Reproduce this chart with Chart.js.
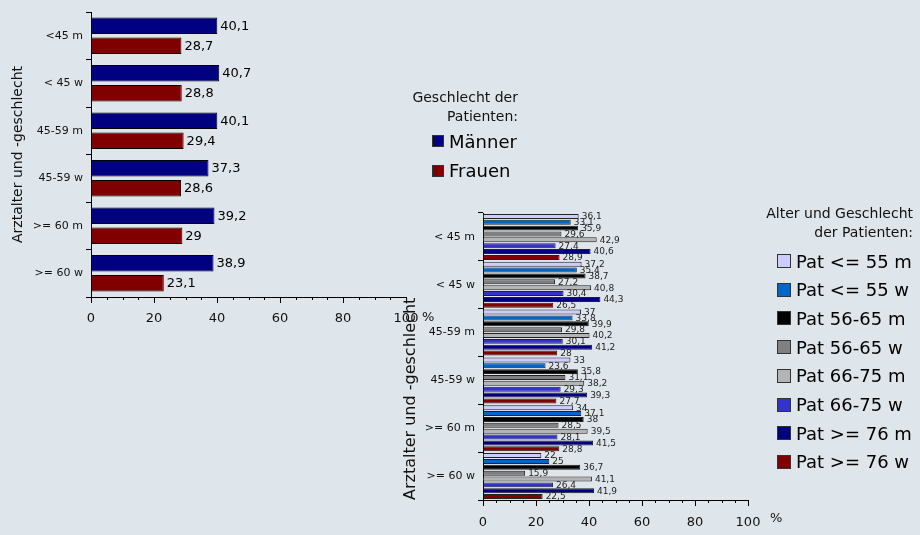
<!DOCTYPE html>
<html>
<head>
<meta charset="utf-8">
<script src="https://cdn.jsdelivr.net/npm/chart.js@4/dist/chart.umd.min.js"></script>
<style>
  body { margin: 0; background: #dfe6eb; font-family: "DejaVu Sans", Verdana, sans-serif; }
  #wrap { position: relative; width: 920px; height: 535px; overflow: hidden; }
  .box { position: absolute; }
  .legend-title { position: absolute; text-align: right; font-size: 14px; line-height: 19px; color: #111; }
  .legend-item { position: absolute; display: flex; align-items: center; color: #000; white-space: nowrap; }
  .legend-item span.sw { display: inline-block; border: 1px solid #333; margin-right: 5px; box-sizing: border-box; }
</style>
</head>
<body>
<div id="wrap">
  <div class="box" style="left:0;top:0;width:440px;height:335px;"><canvas id="chart1"></canvas></div>
  <div class="box" style="left:400px;top:200px;width:395px;height:335px;"><canvas id="chart2"></canvas></div>
  <div id="legend1"></div>
  <div id="legend2"></div>
</div>
<script>
const categories = ["<45 m", "< 45 w", "45-59 m", "45-59 w", ">= 60 m", ">= 60 w"];
const categories2 = ["< 45 m", "< 45 w", "45-59 m", "45-59 w", ">= 60 m", ">= 60 w"];

const sexLabels = ["Männer", "Frauen"];
const sexColors = ["#000080", "#800000"];
const maenner = [40.1, 40.7, 40.1, 37.3, 39.2, 38.9];
const frauen = [28.7, 28.8, 29.4, 28.6, 29, 23.1];

const groupLabels = ["Pat <= 55 m", "Pat <= 55 w", "Pat 56-65 m", "Pat 56-65 w",
  "Pat 66-75 m", "Pat 66-75 w", "Pat >= 76 m", "Pat >= 76 w"];
const groupColors = ["#ccccff", "#0066cc", "#000000", "#808080",
  "#b4b4b4", "#3333cc", "#000080", "#800000"];
const pat55m = [36.1, 37.2, 37, 33, 34, 22];
const pat55w = [33.1, 35.4, 33.8, 23.6, 37.1, 25];
const pat65m = [35.9, 38.7, 39.9, 35.8, 38, 36.7];
const pat65w = [29.6, 27.2, 29.8, 31.1, 28.5, 15.9];
const pat75m = [42.9, 40.8, 40.2, 38.2, 39.5, 41.1];
const pat75w = [27.4, 30.4, 30.1, 29.3, 28.1, 26.4];
const pat76m = [40.6, 44.3, 41.2, 39.3, 41.5, 41.9];
const pat76w = [28.9, 26.5, 28, 27.7, 28.8, 22.5];
const groupValues = [pat55m, pat55w, pat65m, pat65w, pat75m, pat75w, pat76m, pat76w];

const xTicks = [0, 20, 40, 60, 80, 100];
const FONT = "'DejaVu Sans', Verdana, sans-serif";

function fmt(v) { return String(v).replace(".", ","); }

// value labels at the end of each bar
const valueLabels = {
  id: "valueLabels",
  afterDatasetsDraw(chart, args, opts) {
    const ctx = chart.ctx;
    ctx.save();
    ctx.font = opts.size + "px " + FONT;
    ctx.fillStyle = opts.color;
    ctx.textBaseline = "middle";
    ctx.textAlign = "left";
    chart.data.datasets.forEach((ds, i) => {
      chart.getDatasetMeta(i).data.forEach((bar, j) => {
        ctx.fillText(fmt(ds.data[j]), bar.x + 3, bar.y + 0.5);
      });
    });
    ctx.restore();
  }
};

// "%" unit after the last x tick label, plus short minor ticks
const unitLabel = {
  id: "unitLabel",
  afterDraw(chart, args, opts) {
    const x = chart.scales.x;
    const ctx = chart.ctx;
    ctx.save();
    ctx.strokeStyle = "#000";
    ctx.lineWidth = 1;
    ctx.beginPath();
    x.ticks.forEach((t) => {
      if (xTicks.includes(t.value)) return;
      const px = Math.round(x.getPixelForValue(t.value)) + 0.5;
      ctx.moveTo(px, x.top);
      ctx.lineTo(px, x.top + 3);
    });
    ctx.stroke();
    ctx.font = opts.size + "px " + FONT;
    ctx.fillStyle = "#111";
    ctx.textBaseline = "middle";
    ctx.fillText("%", x.getPixelForValue(100) + opts.dx, x.top + opts.dy);
    ctx.restore();
  }
};

function makeOptions(cfg) {
  return {
    indexAxis: "y",
    responsive: true,
    maintainAspectRatio: false,
    animation: false,
    layout: { padding: { top: cfg.padTop, right: cfg.padRight, left: 0, bottom: 0 } },
    plugins: {
      legend: { display: false },
      tooltip: { enabled: false },
      valueLabels: { size: cfg.labelSize, color: cfg.labelColor },
      unitLabel: { size: cfg.tickSize, dx: cfg.unitDx, dy: cfg.unitDy }
    },
    scales: {
      x: {
        min: 0, max: 100,
        afterBuildTicks(scale) {
          const t = [];
          for (let v = 0; v <= 100; v += 5) t.push({ value: v });
          scale.ticks = t;
        },
        afterFit(scale) { scale.height = cfg.xHeight; },
        border: { display: true, color: "#000", width: 1 },
        grid: {
          drawOnChartArea: false, tickLength: cfg.xTickLen, tickWidth: 1,
          tickColor: (c) => xTicks.includes(c.tick && c.tick.value) ? "#000" : "rgba(0,0,0,0)"
        },
        ticks: {
          autoSkip: false, maxRotation: 0,
          padding: cfg.xPad,
          color: "#111",
          font: { family: FONT, size: cfg.tickSize },
          callback: (v) => xTicks.includes(v) ? String(v) : ""
        }
      },
      y: {
        afterFit(scale) { scale.width = cfg.yWidth; },
        border: { display: true, color: "#000", width: 1 },
        grid: { drawOnChartArea: false, tickLength: 5, tickColor: "#000", offset: true },
        ticks: { color: "#111", padding: 3, font: { family: FONT, size: cfg.catSize } },
        title: {
          display: true, text: "Arztalter und -geschlecht", color: "#111",
          align: cfg.titleAlign, padding: { top: cfg.titlePad, bottom: 0 },
          font: { family: FONT, size: cfg.titleSize }
        }
      }
    }
  };
}

new Chart(document.getElementById("chart1"), {
  type: "bar",
  data: {
    labels: categories,
    datasets: [maenner, frauen].map((d, i) => ({
      label: sexLabels[i], data: d,
      backgroundColor: sexColors[i], borderColor: "#000", borderWidth: 1,
      categoryPercentage: 0.84, barPercentage: 0.82
    }))
  },
  options: makeOptions({
    padTop: 12, padRight: 34, xHeight: 38, yWidth: 91, xTickLen: 6, xPad: 8,
    tickSize: 13, catSize: 11, labelSize: 13, labelColor: "#000",
    unitDx: 16, unitDy: 21, titleAlign: "center", titlePad: 10, titleSize: 14
  }),
  plugins: [valueLabels, unitLabel]
});

new Chart(document.getElementById("chart2"), {
  type: "bar",
  data: {
    labels: categories2,
    datasets: groupValues.map((d, i) => ({
      label: groupLabels[i], data: d,
      backgroundColor: groupColors[i], borderColor: "#222", borderWidth: 1,
      categoryPercentage: 0.98, barPercentage: 0.85
    }))
  },
  options: makeOptions({
    padTop: 13, padRight: 47, xHeight: 35, yWidth: 83, xTickLen: 6, xPad: 9,
    tickSize: 13, catSize: 11, labelSize: 9, labelColor: "#222",
    unitDx: 22, unitDy: 19, titleAlign: "start", titlePad: 1, titleSize: 16
  }),
  plugins: [valueLabels, unitLabel]
});

// HTML legends
function buildLegend(el, titleLines, titleRight, titleTop, labels, colors, itemLeft, itemTop, step, size, box) {
  const t = document.createElement("div");
  t.className = "legend-title";
  t.style.right = (920 - titleRight) + "px";
  t.style.top = titleTop + "px";
  t.innerHTML = titleLines.join("<br>");
  el.appendChild(t);
  labels.forEach((lab, i) => {
    const it = document.createElement("div");
    it.className = "legend-item";
    it.style.left = itemLeft + "px";
    it.style.top = (itemTop + i * step) + "px";
    it.style.fontSize = size + "px";
    it.style.height = "22px";
    it.innerHTML = '<span class="sw" style="width:' + box + 'px;height:' + box +
      'px;background:' + colors[i] + '"></span>' + lab;
    el.appendChild(it);
  });
}
buildLegend(document.getElementById("legend1"), ["Geschlecht der", "Patienten:"], 518, 88,
  sexLabels, sexColors, 432, 130, 29.5, 18, 12);
buildLegend(document.getElementById("legend2"), ["Alter und Geschlecht", "der Patienten:"], 913, 204,
  groupLabels, groupColors, 777, 250, 28.7, 18, 14);
</script>
</body>
</html>
